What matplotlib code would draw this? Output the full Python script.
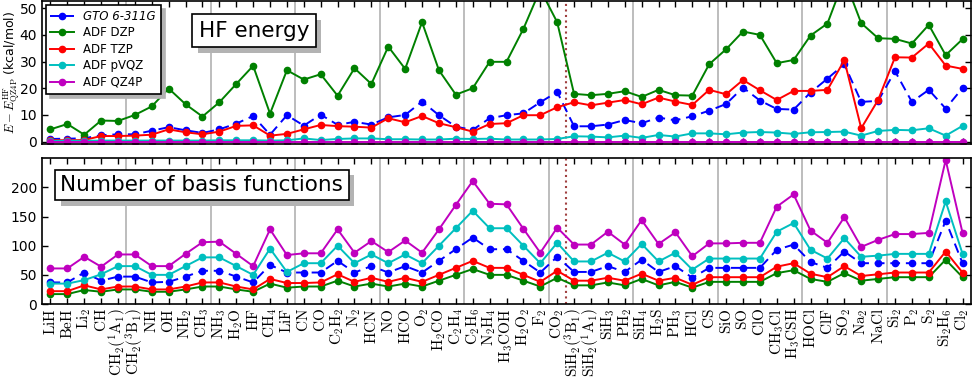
import numpy as np
import matplotlib.pyplot as plt
import matplotlib.patheffects as pe

plt.rcParams['mathtext.fontset'] = 'cm'
plt.rcParams['font.family'] = ['DejaVu Sans']

molecules = [
    r'$\mathrm{LiH}$', r'$\mathrm{BeH}$', r'$\mathrm{Li_2}$', r'$\mathrm{CH}$',
    r'$\mathrm{CH_2(^1A_1)}$', r'$\mathrm{CH_2(^3B_1)}$',
    r'$\mathrm{NH}$', r'$\mathrm{OH}$', r'$\mathrm{NH_2}$', r'$\mathrm{CH_3}$',
    r'$\mathrm{NH_3}$', r'$\mathrm{H_2O}$', r'$\mathrm{HF}$', r'$\mathrm{CH_4}$',
    r'$\mathrm{LiF}$', r'$\mathrm{CN}$', r'$\mathrm{CO}$', r'$\mathrm{C_2H_2}$',
    r'$\mathrm{N_2}$', r'$\mathrm{HCN}$', r'$\mathrm{NO}$', r'$\mathrm{HCO}$',
    r'$\mathrm{O_2}$', r'$\mathrm{H_2CO}$', r'$\mathrm{C_2H_4}$', r'$\mathrm{C_2H_6}$',
    r'$\mathrm{N_2H_4}$', r'$\mathrm{H_3COH}$', r'$\mathrm{H_2O_2}$', r'$\mathrm{F_2}$',
    r'$\mathrm{CO_2}$',
    r'$\mathrm{SiH_2(^3B_1)}$', r'$\mathrm{SiH_2(^1A_1)}$',
    r'$\mathrm{SiH_3}$', r'$\mathrm{PH_2}$', r'$\mathrm{SiH_4}$', r'$\mathrm{H_2S}$',
    r'$\mathrm{PH_3}$', r'$\mathrm{HCl}$', r'$\mathrm{CS}$', r'$\mathrm{SiO}$',
    r'$\mathrm{SO}$', r'$\mathrm{ClO}$', r'$\mathrm{CH_3Cl}$', r'$\mathrm{H_3CSH}$',
    r'$\mathrm{HOCl}$', r'$\mathrm{ClF}$', r'$\mathrm{SO_2}$', r'$\mathrm{Na_2}$',
    r'$\mathrm{NaCl}$', r'$\mathrm{Si_2}$', r'$\mathrm{P_2}$', r'$\mathrm{S_2}$',
    r'$\mathrm{Si_2H_6}$', r'$\mathrm{Cl_2}$',
]

labels = ['GTO 6-311G', 'ADF DZP', 'ADF TZP', 'ADF pVQZ', 'ADF QZ4P']

# HF energy relative to QZ4P (kcal/mol)
hf_gto = [1.0, 1.1, 1.25, 2.4, 2.75, 2.75, 4.1, 5.4, 4.25, 3.25, 4.6, 6.75, 9.6, 2.6, 9.9, 6.0, 10.1, 6.3,
          7.4, 6.4, 9.1, 10.0, 15.0, 9.9, 5.6, 4.4, 8.75, 9.9, 10.6, 14.75, 18.6,
          5.75, 5.75, 6.4, 8.1, 6.9, 9.0, 8.0, 9.5, 11.6, 14.1, 20.25, 15.4, 12.25, 12.0,
          18.4, 23.6, 29.0, 14.9, 15.25, 26.4, 14.9, 19.4, 12.4, 20.1]
hf_dzp = [4.6, 6.6, 2.6, 7.9, 7.75, 10.0, 13.2, 19.9, 14.0, 9.4, 14.75, 21.6, 28.4, 10.5, 26.75, 23.25, 25.25, 17.2,
          27.5, 21.6, 35.6, 27.25, 44.75, 26.75, 17.6, 20.0, 29.9, 29.9, 42.25, 57.0, 44.75,
          17.9, 17.4, 17.9, 18.9, 16.75, 19.4, 17.4, 17.25, 29.0, 34.6, 41.25, 40.0, 29.4, 30.6,
          39.75, 44.25, 61.0, 44.4, 38.75, 38.5, 36.75, 43.75, 32.4, 38.4]
hf_tzp = [0.6, 0.5, 0.6, 2.1, 2.1, 2.25, 2.6, 4.6, 3.5, 2.75, 3.75, 5.9, 6.1, 2.25, 2.9, 4.6, 6.25, 5.8,
          5.6, 5.25, 8.75, 7.25, 9.6, 6.9, 5.4, 3.75, 6.6, 6.9, 9.9, 9.9, 12.9,
          14.75, 13.6, 14.6, 15.6, 14.0, 16.5, 15.0, 13.75, 19.4, 17.75, 23.1, 19.25, 15.6, 19.0,
          19.0, 19.4, 30.5, 5.0, 15.6, 31.6, 31.5, 36.75, 28.5, 27.25]
hf_pvqz = [0.3, 0.3, 0.3, 0.4, 0.4, 0.4, 0.4, 0.4, 0.4, 0.4, 0.5, 0.5, 0.5, 0.4, 0.5, 1.2, 0.6, 1.0,
           1.2, 1.2, 0.9, 0.9, 0.8, 0.8, 1.1, 1.0, 1.1, 0.8, 0.8, 0.8, 1.0,
           2.0, 1.9, 1.6, 2.25, 1.4, 2.5, 1.9, 3.1, 3.1, 2.75, 3.4, 3.6, 3.4, 2.9,
           3.5, 3.6, 3.75, 2.25, 4.0, 4.4, 4.25, 5.0, 2.25, 5.9]
hf_qz4p = [0.0] * 55

# number of basis functions
nb_gto = [37, 37, 54, 40, 47, 47, 37, 38, 47, 57, 57, 47, 37, 67, 54, 54, 54, 74,
          54, 65, 54, 65, 54, 74, 94, 114, 94, 94, 74, 54, 81,
          55, 55, 65, 55, 76, 55, 65, 45, 62, 62, 62, 62, 93, 102, 72, 62, 90, 70, 70, 70, 70, 70, 143, 70]
nb_dzp = [17, 17, 24, 21, 25, 25, 21, 21, 25, 30, 30, 25, 21, 35, 28, 30, 30, 40,
          30, 35, 30, 35, 30, 40, 50, 60, 50, 50, 40, 30, 45,
          32, 32, 37, 32, 43, 32, 38, 28, 38, 38, 38, 38, 53, 58, 43, 38, 53, 40, 43, 46, 46, 46, 76, 46]
nb_tzp = [22, 22, 32, 25, 30, 30, 25, 25, 30, 37, 37, 30, 25, 43, 36, 36, 37, 51,
          38, 45, 38, 45, 38, 50, 62, 74, 62, 62, 50, 38, 57,
          40, 40, 45, 40, 52, 40, 45, 33, 46, 46, 46, 46, 64, 70, 52, 46, 65, 48, 51, 54, 54, 54, 90, 54]
nb_pvqz = [35, 35, 41, 51, 65, 65, 50, 50, 65, 80, 80, 65, 50, 95, 55, 70, 70, 100,
           70, 85, 70, 85, 70, 100, 130, 160, 130, 130, 100, 70, 105,
           73, 73, 88, 73, 103, 73, 88, 59, 78, 78, 78, 78, 124, 139, 93, 78, 113, 81, 83, 86, 86, 86, 176, 86]
nb_qz4p = [61, 61, 81, 64, 85, 85, 65, 65, 86, 106, 107, 86, 65, 128, 84, 87, 87, 128,
           88, 108, 89, 109, 88, 128, 170, 211, 172, 171, 129, 88, 131,
           102, 102, 124, 102, 144, 103, 123, 82, 104, 104, 105, 105, 167, 188, 126, 105, 149, 98, 110, 120, 120, 122, 247, 122]

colors = ['b', 'g', 'r', 'c', 'm']
styles = [(0, (5, 3)), '-', '-', '-', '-']

x = np.arange(len(molecules))

fig = plt.figure(figsize=(9.72, 3.78), dpi=100)
W, H = 972.0, 378.0
ax1 = fig.add_axes([42 / W, 1 - 143.5 / H, 929 / W, 142.8 / H])
ax2 = fig.add_axes([42 / W, 1 - 304 / H, 929 / W, 145.7 / H])

for ax, data in [(ax1, [hf_gto, hf_dzp, hf_tzp, hf_pvqz, hf_qz4p]),
                 (ax2, [nb_gto, nb_dzp, nb_tzp, nb_pvqz, nb_qz4p])]:
    for xv in np.arange(4.5, 50, 5):
        ax.axvline(xv, color='0.72', lw=1.3, zorder=0)
    ax.axvline(30.5, color='#a04040', ls=':', lw=1.5, zorder=0)
    for vals, lab, c, ls in zip(data, labels, colors, styles):
        ax.plot(x, vals, color=c, ls=ls, lw=1.4, marker='o', ms=4.5, label=lab)
    ax.set_xlim(-0.5, 54.5)
    ax.set_xticks(x)
    ax.tick_params(axis='both', direction='in', top=True, right=True, length=4, width=1, labelsize=10)
    for s in ax.spines.values():
        s.set_linewidth(1.2)

ax1.set_ylim(-0.7, 52.8)
ax1.set_yticks(np.arange(0, 51, 10))
ax1.set_xticklabels([])

ax2.set_ylim(0, 250)
ax2.set_yticks(np.arange(0, 201, 50))
ax2.set_xticklabels(molecules, rotation=90, fontsize=11)
ax2.tick_params(axis='x', pad=3)

leg = ax1.legend(loc='upper left', bbox_to_anchor=(0.004, 0.97), borderaxespad=0,
                 fontsize=8.5, labelspacing=0.3, fancybox=False, framealpha=1,
                 edgecolor='k', handlelength=2.0,
                 shadow={'ox': 3, 'oy': -3, 'facecolor': '0.7', 'edgecolor': '0.7', 'alpha': 1})
leg.get_frame().set_linewidth(1.2)
leg.get_texts()[0].set_fontstyle('italic')

shadow = [pe.withSimplePatchShadow(offset=(4, -4), shadow_rgbFace='0.7', alpha=1)]
t1 = ax1.text(0.228, 0.79, 'HF energy', transform=ax1.transAxes, fontsize=15.5,
              ha='center', va='center',
              bbox=dict(boxstyle='square,pad=0.3', facecolor='white', edgecolor='k', lw=1.2))
t1.get_bbox_patch().set_path_effects(shadow)
t2 = ax2.text(0.172, 0.817, 'Number of basis functions', transform=ax2.transAxes, fontsize=15.5,
              ha='center', va='center',
              bbox=dict(boxstyle='square,pad=0.25', facecolor='white', edgecolor='k', lw=1.2))
t2.get_bbox_patch().set_path_effects(shadow)

fig.text(12 / W, 1 - 72 / H, r'$E-E^{\rm HF}_{\rm QZ4P}$ (kcal/mol)', rotation=90,
         ha='center', va='center', fontsize=9)

fig.savefig('out.png', dpi=100)
